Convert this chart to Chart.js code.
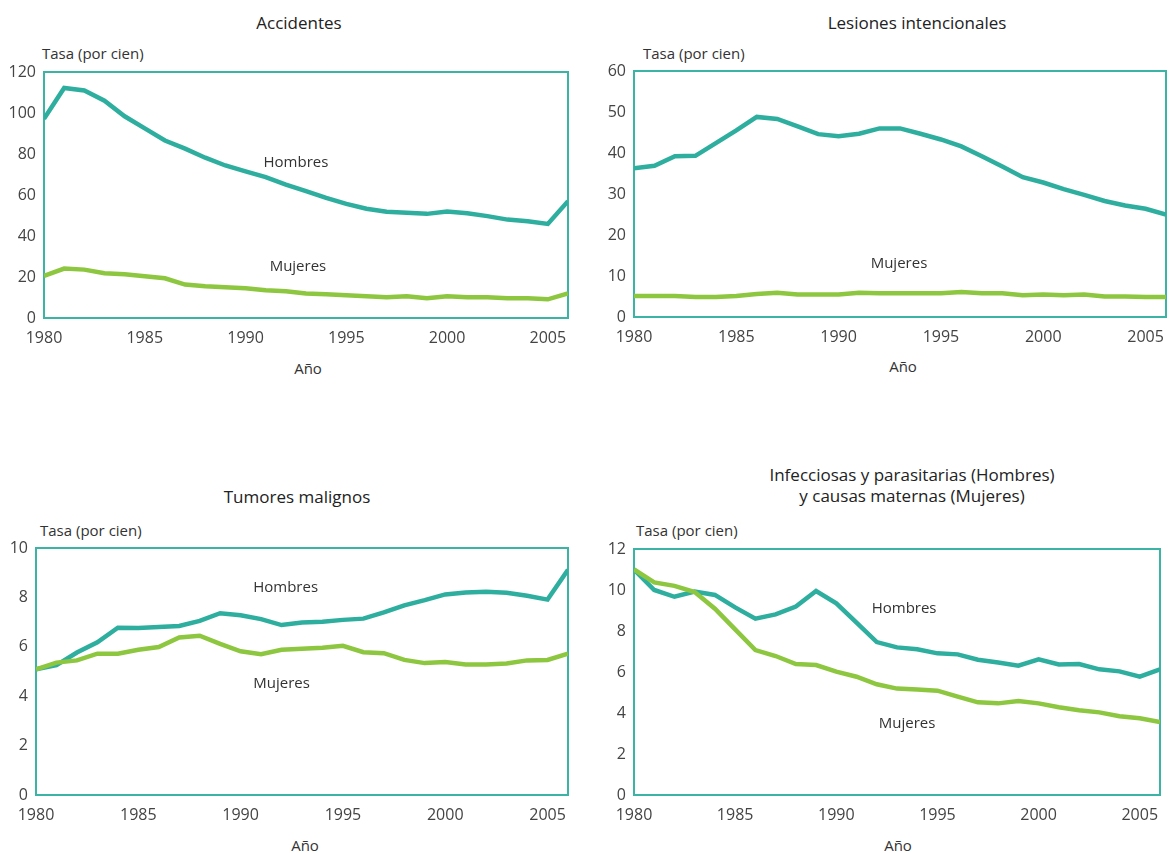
<!DOCTYPE html>
<html lang="es">
<head>
    <meta charset="UTF-8">
    <title>Tasas por causa de muerte, 1980-2006</title>
    <script src="https://cdn.jsdelivr.net/npm/chart.js"></script>
    <style>
        html, body { margin: 0; padding: 0; background: #fff; overflow: hidden; }
        body { width: 1171px; height: 853px; position: relative; font-family: "Open Sans", sans-serif; color: #333; }
        canvas { position: absolute; }
        .txt { position: absolute; white-space: nowrap; line-height: 1.25; }
        .title { font-size: 17px; color: #222; transform: translate(-50%, -50%); text-align: center; }
        .ytitle { font-size: 15px; transform: translateY(-50%); }
        .xtitle { font-size: 15px; transform: translate(-50%, -50%); }
    </style>
</head>
<body>
    <div class="txt title" style="left:299px; top:23px;">Accidentes</div>
    <div class="txt title" style="left:917px; top:23px;">Lesiones intencionales</div>
    <div class="txt title" style="left:297px; top:497px;">Tumores malignos</div>
    <div class="txt title" style="left:912px; top:485px;">Infecciosas y parasitarias (Hombres)<br>y causas maternas (Mujeres)</div>

    <div class="txt ytitle" style="left:42px; top:53px;">Tasa (por cien)</div>
    <div class="txt ytitle" style="left:643px; top:53px;">Tasa (por cien)</div>
    <div class="txt ytitle" style="left:40px; top:530px;">Tasa (por cien)</div>
    <div class="txt ytitle" style="left:636px; top:530px;">Tasa (por cien)</div>

    <div class="txt xtitle" style="left:308px; top:368px;">Año</div>
    <div class="txt xtitle" style="left:903px; top:366px;">Año</div>
    <div class="txt xtitle" style="left:305px; top:845px;">Año</div>
    <div class="txt xtitle" style="left:898px; top:845px;">Año</div>

    <canvas id="accidentes"></canvas>
    <canvas id="lesiones"></canvas>
    <canvas id="tumores"></canvas>
    <canvas id="infecciosas"></canvas>

    <script>
        // data
        const years = [1980, 1981, 1982, 1983, 1984, 1985, 1986, 1987, 1988, 1989,
                       1990, 1991, 1992, 1993, 1994, 1995, 1996, 1997, 1998, 1999,
                       2000, 2001, 2002, 2003, 2004, 2005, 2006];
        const yearTicks = [1980, 1985, 1990, 1995, 2000, 2005];

        const accHombres = [97.2, 112.2, 111.0, 106.0, 98.4, 92.5, 86.6, 82.6, 78.2, 74.4,
                            71.5, 68.7, 65.1, 61.9, 58.6, 55.7, 53.3, 51.8, 51.3, 50.8,
                            52.0, 51.1, 49.7, 48.0, 47.2, 45.9, 57.0];
        const accMujeres = [20.5, 24.1, 23.6, 21.8, 21.3, 20.4, 19.4, 16.3, 15.5, 15.0,
                            14.5, 13.5, 13.0, 12.0, 11.6, 11.1, 10.6, 10.1, 10.6, 9.6,
                            10.6, 10.1, 10.1, 9.6, 9.6, 9.1, 12.0];
        const accTicks = [0, 20, 40, 60, 80, 100, 120];

        const lesHombres = [36.3, 36.9, 39.2, 39.3, 42.4, 45.5, 48.8, 48.3, 46.5, 44.6,
                            44.1, 44.7, 46.0, 46.0, 44.7, 43.3, 41.6, 39.2, 36.7, 34.1,
                            32.8, 31.2, 29.8, 28.3, 27.2, 26.4, 25.0];
        const lesMujeres = [5.1, 5.1, 5.1, 4.9, 4.9, 5.1, 5.6, 5.9, 5.5, 5.5,
                            5.5, 5.9, 5.8, 5.8, 5.8, 5.8, 6.1, 5.8, 5.8, 5.3,
                            5.5, 5.3, 5.5, 5.0, 5.0, 4.9, 4.9];
        const lesTicks = [0, 10, 20, 30, 40, 50, 60];

        const tumHombres = [5.09, 5.26, 5.77, 6.18, 6.77, 6.76, 6.80, 6.84, 7.05, 7.36,
                            7.28, 7.12, 6.88, 6.98, 7.01, 7.09, 7.14, 7.39, 7.68, 7.89,
                            8.12, 8.20, 8.23, 8.19, 8.07, 7.91, 9.12];
        const tumMujeres = [5.09, 5.36, 5.45, 5.72, 5.72, 5.88, 5.99, 6.38, 6.45, 6.12,
                            5.82, 5.70, 5.88, 5.92, 5.96, 6.04, 5.78, 5.74, 5.47, 5.34,
                            5.38, 5.28, 5.28, 5.32, 5.45, 5.47, 5.72];
        const tumTicks = [0, 2, 4, 6, 8, 10];

        const infHombres = [11.0, 10.0, 9.67, 9.92, 9.76, 9.15, 8.60, 8.81, 9.19, 9.95,
                            9.35, 8.41, 7.46, 7.20, 7.11, 6.91, 6.86, 6.60, 6.46, 6.31,
                            6.62, 6.37, 6.39, 6.13, 6.03, 5.77, 6.13];
        const infMujeres = [11.0, 10.37, 10.2, 9.9, 9.09, 8.08, 7.07, 6.78, 6.39, 6.34,
                            6.02, 5.77, 5.40, 5.19, 5.15, 5.09, 4.80, 4.52, 4.47, 4.59,
                            4.47, 4.28, 4.13, 4.03, 3.84, 3.74, 3.56];
        const infTicks = [0, 2, 4, 6, 8, 10, 12];

        const TEAL = '#2eae9e';
        const GREEN = '#8dc63f';
        const FRAME = '#3cb4a5';
        const Y_W = 36, PAD_T = 14, PAD_R = 5, X_H = 34;

        // box around the plot area (all four sides)
        const framePlugin = {
            id: 'frame',
            beforeDatasetsDraw(chart) {
                const a = chart.chartArea, ctx = chart.ctx;
                ctx.save();
                ctx.strokeStyle = FRAME;
                ctx.lineWidth = 2;
                ctx.strokeRect(a.left, a.top, a.right - a.left, a.bottom - a.top);
                ctx.restore();
            }
        };

        // "Hombres" / "Mujeres" written inside the plot, placed in data units
        const seriesLabels = {
            id: 'seriesLabels',
            afterDatasetsDraw(chart, args, opts) {
                const ctx = chart.ctx;
                ctx.save();
                ctx.font = '15px "Open Sans", sans-serif';
                ctx.fillStyle = '#333';
                ctx.textAlign = 'center';
                ctx.textBaseline = 'middle';
                (opts.items || []).forEach(it => {
                    ctx.fillText(it.text,
                        chart.scales.x.getPixelForValue(it.x),
                        chart.scales.y.getPixelForValue(it.y));
                });
                ctx.restore();
            }
        };

        function makeChart(id, box, hombres, mujeres, yTicks, labels) {
            const canvas = document.getElementById(id);
            canvas.width = box.w + Y_W + PAD_R;
            canvas.height = box.h + PAD_T + X_H;
            canvas.style.left = (box.left - Y_W) + 'px';
            canvas.style.top = (box.top - PAD_T) + 'px';

            return new Chart(canvas, {
                type: 'line',
                data: {
                    datasets: [{
                        label: 'Mujeres',
                        data: years.map((y, i) => ({ x: y, y: mujeres[i] })),
                        borderColor: GREEN,
                        borderWidth: 4.5,
                        pointRadius: 0,
                        tension: 0,
                        order: 0
                    }, {
                        label: 'Hombres',
                        data: years.map((y, i) => ({ x: y, y: hombres[i] })),
                        borderColor: TEAL,
                        borderWidth: 4.5,
                        pointRadius: 0,
                        tension: 0,
                        order: 1
                    }]
                },
                options: {
                    responsive: false,
                    animation: false,
                    events: [],
                    layout: { padding: { top: PAD_T, right: PAD_R, left: 0, bottom: 0 } },
                    plugins: {
                        legend: { display: false },
                        tooltip: { enabled: false },
                        seriesLabels: { items: labels }
                    },
                    scales: {
                        x: {
                            type: 'linear',
                            min: years[0],
                            max: years[years.length - 1],
                            grid: { display: false, drawTicks: false },
                            border: { display: false },
                            afterBuildTicks: s => { s.ticks = yearTicks.map(v => ({ value: v })); },
                            afterFit: s => { s.height = X_H; s.paddingLeft = 0; s.paddingRight = 0; },
                            ticks: {
                                padding: 11,
                                color: '#444',
                                font: { family: '"Open Sans", sans-serif', size: 16 },
                                maxRotation: 0,
                                callback: v => String(v)
                            }
                        },
                        y: {
                            min: yTicks[0],
                            max: yTicks[yTicks.length - 1],
                            grid: { display: false, drawTicks: false },
                            border: { display: false },
                            afterBuildTicks: s => { s.ticks = yTicks.map(v => ({ value: v })); },
                            afterFit: s => { s.width = Y_W; s.paddingTop = 0; s.paddingBottom = 0; },
                            ticks: {
                                padding: 8,
                                color: '#444',
                                font: { family: '"Open Sans", sans-serif', size: 16 }
                            }
                        }
                    }
                },
                plugins: [framePlugin, seriesLabels]
            });
        }

        makeChart('accidentes', { left: 44, top: 72, w: 524, h: 246 },
            accHombres, accMujeres, accTicks,
            [{ text: 'Hombres', x: 1992.5, y: 75.6 }, { text: 'Mujeres', x: 1992.6, y: 24.9 }]);

        makeChart('lesiones', { left: 634, top: 71, w: 532, h: 246 },
            lesHombres, lesMujeres, lesTicks,
            [{ text: 'Mujeres', x: 1992.95, y: 13.1 }]);

        makeChart('tumores', { left: 36, top: 548, w: 532, h: 247 },
            tumHombres, tumMujeres, tumTicks,
            [{ text: 'Hombres', x: 1992.2, y: 8.4 }, { text: 'Mujeres', x: 1992.0, y: 4.5 }]);

        makeChart('infecciosas', { left: 634, top: 549, w: 526, h: 246 },
            infHombres, infMujeres, infTicks,
            [{ text: 'Hombres', x: 1993.35, y: 9.07 }, { text: 'Mujeres', x: 1993.5, y: 3.46 }]);
    </script>
</body>
</html>
